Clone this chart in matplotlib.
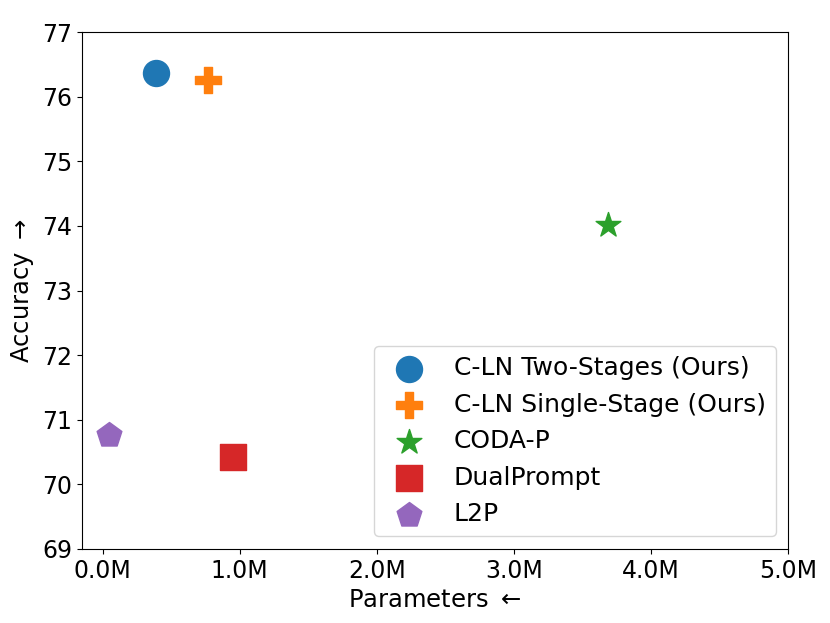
import matplotlib
matplotlib.use("Agg")
import matplotlib.pyplot as plt
from matplotlib.ticker import FuncFormatter

methods = ["C-LN Two-Stages (Ours)", "C-LN Single-Stage (Ours)", "CODA-P", "DualPrompt", "L2P"]
params_m = [0.39, 0.77, 3.69, 0.95, 0.05]
accuracy = [76.36, 76.26, 74.01, 70.43, 70.76]
markers = ["o", "P", "*", "s", "p"]
colors = ["#1f77b4", "#ff7f0e", "#2ca02c", "#d62728", "#9467bd"]
xticks = [0, 1, 2, 3, 4, 5]
yticks = [69, 70, 71, 72, 73, 74, 75, 76, 77]

plt.rcParams['font.size'] = 17.5
fig = plt.figure(figsize=(8.3, 6.23), dpi=100)
ax = fig.add_axes([0.0988, 0.1188, 0.8506, 0.8298])
for m, x, y, mk, c in zip(methods, params_m, accuracy, markers, colors):
    ax.scatter(x, y, s=350, marker=mk, color=c, label=m)
ax.set_xlim(-0.15, 5.0)
ax.set_ylim(69, 77)
ax.set_xticks(xticks)
ax.set_yticks(yticks)
ax.xaxis.set_major_formatter(FuncFormatter(lambda v, p: f"{v:.1f}M"))
ax.tick_params(labelsize=17)
ax.set_xlabel(r"Parameters $\leftarrow$", fontsize=17.5)
ax.set_ylabel(r"Accuracy $\rightarrow$", fontsize=17.5)
ax.legend(loc="lower right", fontsize=18)
fig.savefig("out.png", dpi=100)
